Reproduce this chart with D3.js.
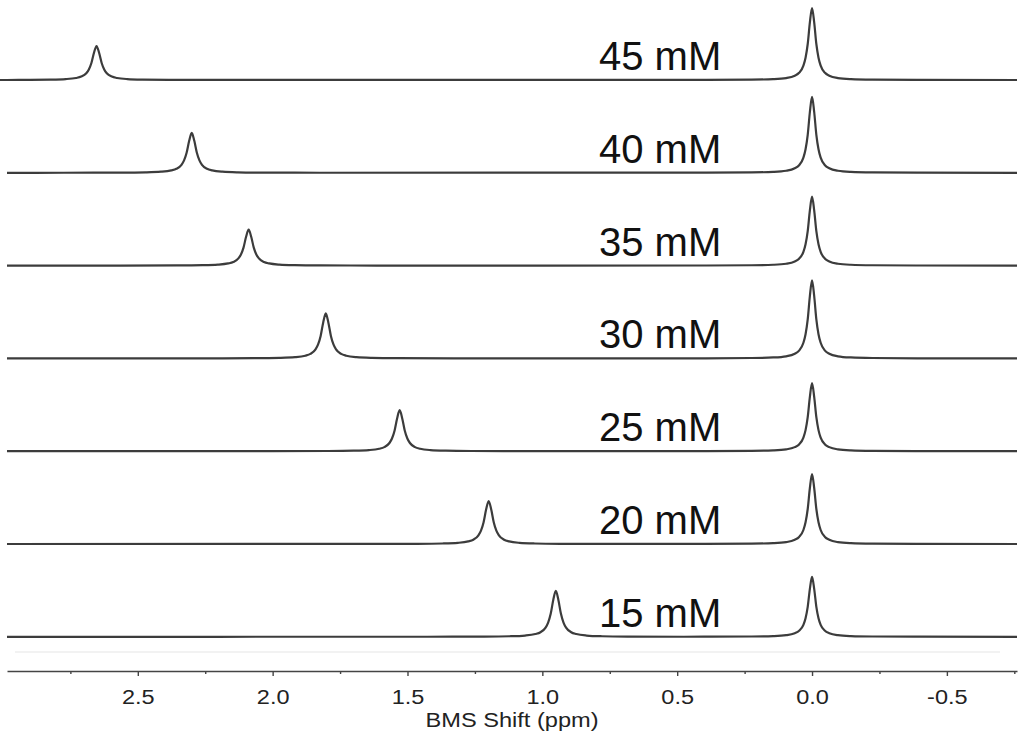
<!DOCTYPE html>
<html>
<head>
<meta charset="utf-8">
<script src="https://d3js.org/d3.v7.min.js"></script>
<style>
  html, body { margin: 0; padding: 0; background: #fff; }
  svg { display: block; font-family: "Liberation Sans", Arial, sans-serif; }
</style>
</head>
<body>
<div id="chart"></div>
<script>
'use strict';

// ─── DATA ────────────────────────────────────────────────────

// traces top to bottom
var concentrations = ['45 mM', '40 mM', '35 mM', '30 mM', '25 mM', '20 mM', '15 mM'];

// BMS peak that moves with concentration (ppm, height)
var shiftPpm    = [2.653, 2.300, 2.089, 1.803, 1.529, 1.199, 0.950];
var shiftHeight = [34, 40, 36, 45, 41, 43, 46];

// reference peak at 0.0 ppm
var refPpm    = [0.0, 0.0, 0.0, 0.0, 0.0, 0.0, 0.0];
var refHeight = [72, 76, 69, 78, 68, 70, 60];

// half widths (ppm)
var shiftHalfWidth = 0.019;
var refHalfWidth   = 0.016;

// peak profile: offset in half widths -> fraction of height
var profileOffsets = [-25, -14, -9, -6, -4, -3, -2, -1.5, -1, -0.5, 0, 0.5, 1, 1.5, 2, 3, 4, 6, 9, 14, 25];
var profileShape   = [0.0015, 0.005, 0.012, 0.027, 0.06, 0.1, 0.2, 0.31, 0.5, 0.8, 1, 0.8, 0.5, 0.31, 0.2, 0.1, 0.06, 0.027, 0.012, 0.005, 0.0015];

var majorTicks = [2.5, 2.0, 1.5, 1.0, 0.5, 0.0, -0.5];
var minorTicks = [2.75, 2.25, 1.75, 1.25, 0.75, 0.25, -0.25, -0.75];

// ─── LAYOUT ──────────────────────────────────────────────────

var width = 1024, height = 738;
var axisY = 671;

var svg = d3.select('#chart').append('svg')
    .attr('width', width)
    .attr('height', height);

var x = d3.scaleLinear().domain([2.985, -0.76]).range([7, 1017]);
var row = d3.scaleLinear().domain([0, concentrations.length - 1]).range([80, 636.8]);
var y = d3.scaleLinear().domain([0, 100]).range([0, -100]);

function peakPoints(center, h, hw) {
    return profileOffsets.map(function(o, k) {
        return [center + o * hw, h * profileShape[k]];
    });
}

var traces = concentrations.map(function(label, i) {
    var pts = [[x.domain()[0], 0]]
        .concat(peakPoints(shiftPpm[i], shiftHeight[i], shiftHalfWidth))
        .concat(peakPoints(refPpm[i], refHeight[i], refHalfWidth))
        .concat([[x.domain()[1], 0]]);
    pts.sort(function(a, b) { return b[0] - a[0]; });
    return { label: label, index: i, points: pts };
});

// faint ghost baseline under the last trace
svg.append('line')
    .attr('x1', 15).attr('x2', 1000)
    .attr('y1', 652).attr('y2', 652)
    .attr('stroke', '#f2f2f2')
    .attr('stroke-width', 2);

var line = d3.line()
    .x(function(d) { return x(d[0]); })
    .y(function(d) { return y(d[1]); })
    .curve(d3.curveMonotoneX);

var g = svg.selectAll('g.trace')
    .data(traces)
    .enter()
    .append('g')
    .attr('class', 'trace')
    .attr('transform', function(d) { return 'translate(0,' + row(d.index) + ')'; });

g.append('path')
    .attr('d', function(d) { return line(d.points); })
    .attr('fill', 'none')
    .attr('stroke', '#3c3c3c')
    .attr('stroke-width', 2.2)
    .attr('stroke-linejoin', 'round');

g.append('text')
    .attr('x', 599)
    .attr('y', -10)
    .attr('font-size', 40)
    .attr('fill', '#111')
    .text(function(d) { return d.label; });

// ─── AXIS ────────────────────────────────────────────────────

var axis = svg.append('g')
    .attr('transform', 'translate(0,' + axisY + ')')
    .call(d3.axisBottom(x)
        .tickValues(majorTicks)
        .tickSize(5)
        .tickSizeOuter(0)
        .tickFormat(function(d) { return d.toFixed(1); }));

axis.select('.domain').attr('stroke', '#444').attr('stroke-width', 1.6);
axis.selectAll('.tick line').attr('stroke', '#444').attr('stroke-width', 1.4);
axis.selectAll('.tick text')
    .attr('y', 33)
    .attr('dy', 0)
    .attr('font-size', 21)
    .attr('font-family', '"Liberation Sans", Arial, sans-serif')
    .attr('fill', '#222')
    .attr('transform', 'scale(1.12,1)');

var minor = svg.append('g')
    .attr('transform', 'translate(0,' + axisY + ')')
    .call(d3.axisBottom(x)
        .tickValues(minorTicks)
        .tickSize(3)
        .tickSizeOuter(0)
        .tickFormat(''));

minor.select('.domain').remove();
minor.selectAll('.tick line').attr('stroke', '#444').attr('stroke-width', 1.4);

svg.append('text')
    .attr('x', 512)
    .attr('y', 727)
    .attr('text-anchor', 'middle')
    .attr('font-size', 20)
    .attr('fill', '#222')
    .attr('textLength', 173)
    .attr('lengthAdjust', 'spacingAndGlyphs')
    .text('BMS Shift (ppm)');
</script>
</body>
</html>
